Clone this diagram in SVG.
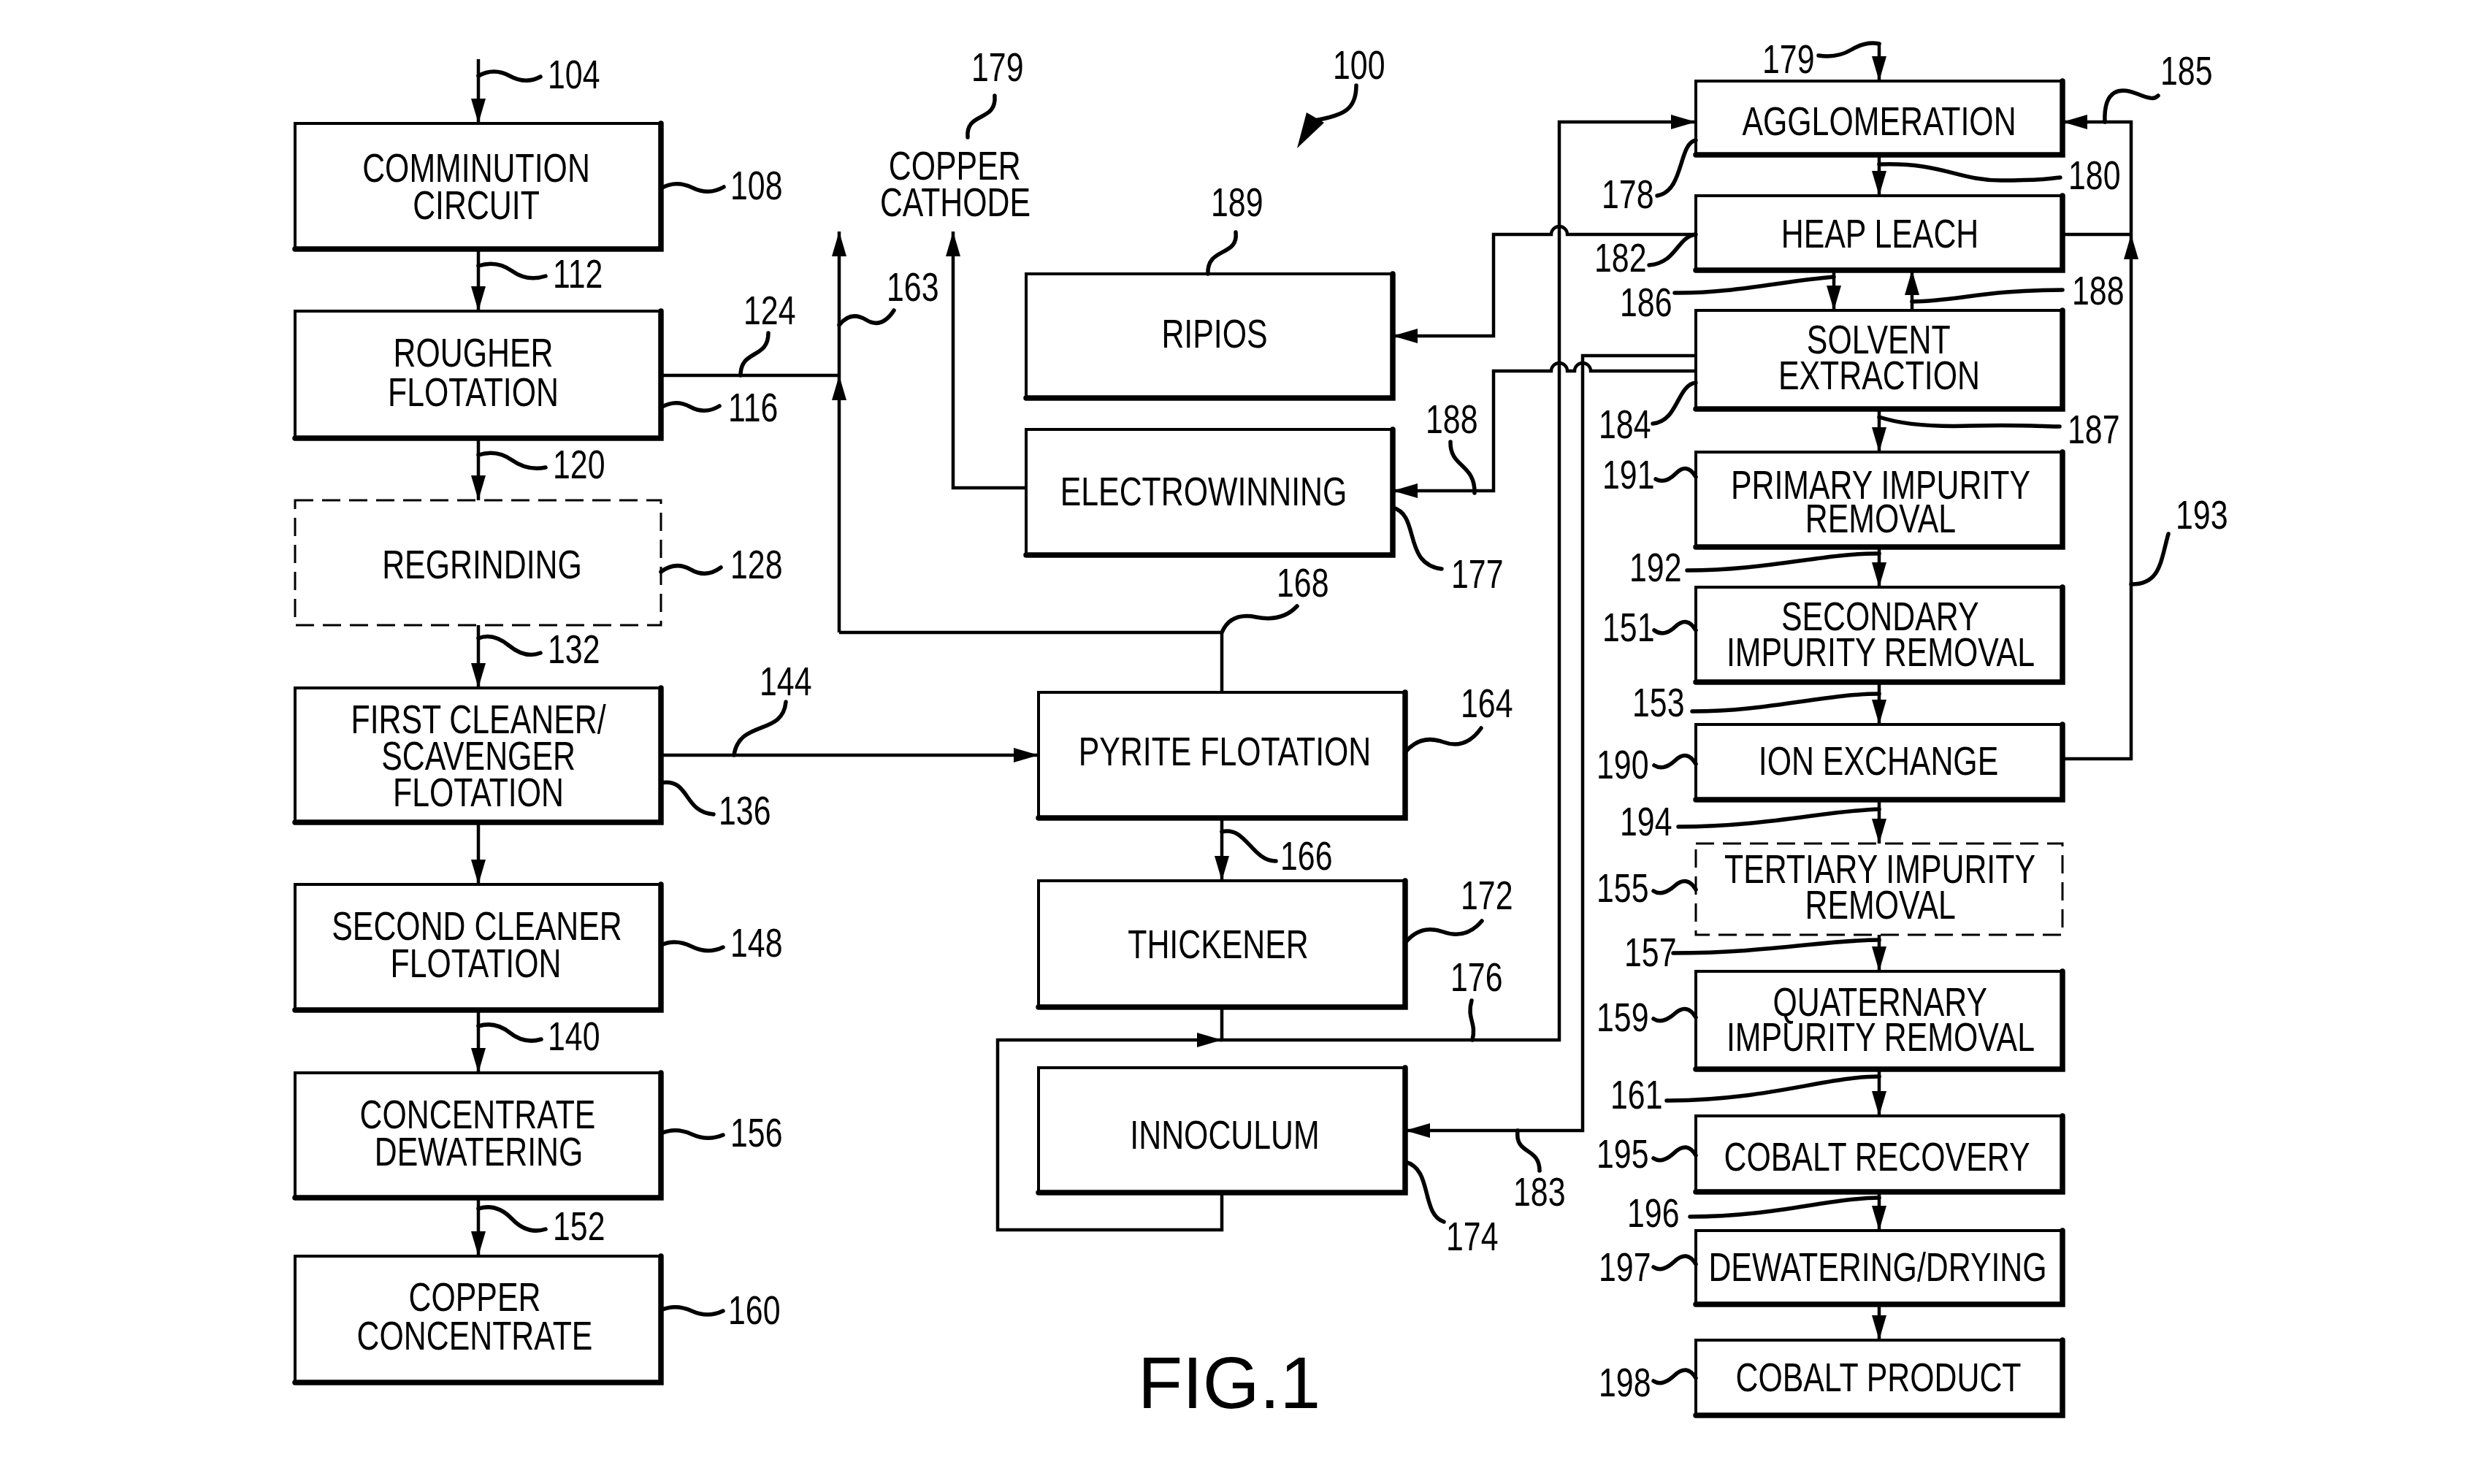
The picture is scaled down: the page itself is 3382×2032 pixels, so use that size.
<svg xmlns="http://www.w3.org/2000/svg" width="3382" height="2032" viewBox="0 0 3382 2032">
<style>
text{font-family:"Liberation Sans",Arial,sans-serif;font-size:56px;fill:#000;transform-box:fill-box;transform:scaleX(.765)}
.c{text-anchor:middle;transform-origin:50% 50%}
.n{text-anchor:start;transform-origin:0% 50%}
.fig{font-size:100px;transform:none}
.b{fill:#fff;stroke:#000;stroke-width:4}
.d{fill:#fff;stroke:#000;stroke-width:3;stroke-dasharray:25 12}
.s{fill:none;stroke:#000;stroke-width:7.5;stroke-linecap:round}
.k{fill:none;stroke:#000;stroke-width:4.5}
.a{marker-end:url(#ah)}
.l{fill:none;stroke:#000;stroke-width:5.5;stroke-linecap:round}
</style>
<defs>
<marker id="ah" markerUnits="userSpaceOnUse" viewBox="0 0 34 20" refX="34" refY="10" markerWidth="34" markerHeight="20" orient="auto"><path d="M0,0 L34,10 L0,20 z" fill="#000"/></marker>
</defs>
<rect width="3382" height="2032" fill="#fff"/>

<g id="comminution"><rect class="b" x="404" y="169" width="501" height="172"/><path class="s" d="M905,169 V341 H404"/><text class="c" x="652" y="249">COMMINUTION<tspan x="652" y="300">CIRCUIT</tspan></text></g>
<g id="rougher"><rect class="b" x="404" y="426" width="501" height="174"/><path class="s" d="M905,426 V600 H404"/><text class="c" x="648" y="502">ROUGHER<tspan x="648" y="556">FLOTATION</tspan></text></g>
<g id="regrinding"><rect class="d" x="404" y="685" width="501" height="171"/><text class="c" x="660" y="792">REGRINDING</text></g>
<g id="first-cleaner"><rect class="b" x="404" y="942" width="501" height="184"/><path class="s" d="M905,942 V1126 H404"/><text class="c" x="655" y="1004">FIRST CLEANER/<tspan x="655" y="1054">SCAVENGER</tspan><tspan x="655" y="1104">FLOTATION</tspan></text></g>
<g id="second-cleaner"><rect class="b" x="404" y="1211" width="501" height="172"/><path class="s" d="M905,1211 V1383 H404"/><text class="c" x="653" y="1287">SECOND CLEANER<tspan x="651" y="1338">FLOTATION</tspan></text></g>
<g id="concentrate-dewatering"><rect class="b" x="404" y="1469" width="501" height="171"/><path class="s" d="M905,1469 V1640 H404"/><text class="c" x="654" y="1545">CONCENTRATE<tspan x="656" y="1596">DEWATERING</tspan></text></g>
<g id="copper-concentrate"><rect class="b" x="404" y="1720" width="501" height="173"/><path class="s" d="M905,1720 V1893 H404"/><text class="c" x="650" y="1795">COPPER<tspan x="650" y="1848">CONCENTRATE</tspan></text></g>

<g id="copper-cathode"><text class="c" x="1307" y="246">COPPER<tspan x="1308" y="296">CATHODE</tspan></text></g>
<g id="ripios"><rect class="b" x="1405" y="375" width="502" height="170"/><path class="s" d="M1907,375 V545 H1405"/><text class="c" x="1663" y="476">RIPIOS</text></g>
<g id="electrowinning"><rect class="b" x="1405" y="588" width="502" height="172"/><path class="s" d="M1907,588 V760 H1405"/><text class="c" x="1648" y="692">ELECTROWINNING</text></g>
<g id="pyrite"><rect class="b" x="1422" y="948" width="502" height="172"/><path class="s" d="M1924,948 V1120 H1422"/><text class="c" x="1677" y="1048">PYRITE FLOTATION</text></g>
<g id="thickener"><rect class="b" x="1422" y="1206" width="502" height="173"/><path class="s" d="M1924,1206 V1379 H1422"/><text class="c" x="1668" y="1312">THICKENER</text></g>
<g id="innoculum"><rect class="b" x="1422" y="1462" width="502" height="171"/><path class="s" d="M1924,1462 V1633 H1422"/><text class="c" x="1677" y="1573">INNOCULUM</text></g>

<g id="agglomeration"><rect class="b" x="2322" y="111" width="502" height="101"/><path class="s" d="M2824,111 V212 H2322"/><text class="c" x="2573" y="185">AGGLOMERATION</text></g>
<g id="heap-leach"><rect class="b" x="2322" y="268" width="502" height="102"/><path class="s" d="M2824,268 V370 H2322"/><text class="c" x="2574" y="339">HEAP LEACH</text></g>
<g id="solvent-extraction"><rect class="b" x="2322" y="425" width="502" height="135"/><path class="s" d="M2824,425 V560 H2322"/><text class="c" x="2572" y="484">SOLVENT<tspan x="2573" y="533">EXTRACTION</tspan></text></g>
<g id="primary"><rect class="b" x="2322" y="619" width="502" height="130"/><path class="s" d="M2824,619 V749 H2322"/><text class="c" x="2575" y="683">PRIMARY IMPURITY<tspan x="2575" y="729">REMOVAL</tspan></text></g>
<g id="secondary"><rect class="b" x="2322" y="804" width="502" height="130"/><path class="s" d="M2824,804 V934 H2322"/><text class="c" x="2574" y="863">SECONDARY<tspan x="2575" y="912">IMPURITY REMOVAL</tspan></text></g>
<g id="ion-exchange"><rect class="b" x="2322" y="992" width="502" height="103"/><path class="s" d="M2824,992 V1095 H2322"/><text class="c" x="2572" y="1061">ION EXCHANGE</text></g>
<g id="tertiary"><rect class="d" x="2322" y="1155" width="502" height="125"/><text class="c" x="2574" y="1209">TERTIARY IMPURITY<tspan x="2575" y="1258">REMOVAL</tspan></text></g>
<g id="quaternary"><rect class="b" x="2322" y="1330" width="502" height="134"/><path class="s" d="M2824,1330 V1464 H2322"/><text class="c" x="2574" y="1391">QUATERNARY<tspan x="2575" y="1439">IMPURITY REMOVAL</tspan></text></g>
<g id="cobalt-recovery"><rect class="b" x="2322" y="1528" width="502" height="104"/><path class="s" d="M2824,1528 V1632 H2322"/><text class="c" x="2570" y="1603">COBALT RECOVERY</text></g>
<g id="dewatering-drying"><rect class="b" x="2322" y="1685" width="502" height="101"/><path class="s" d="M2824,1685 V1786 H2322"/><text class="c" x="2571" y="1754">DEWATERING/DRYING</text></g>
<g id="cobalt-product"><rect class="b" x="2322" y="1835" width="502" height="103"/><path class="s" d="M2824,1835 V1938 H2322"/><text class="c" x="2572" y="1905">COBALT PRODUCT</text></g>

<g id="connectors">
<path class="k a" d="M655,81 V169"/>
<path class="k a" d="M655,341 V426"/>
<path class="k a" d="M655,600 V685"/>
<path class="k a" d="M655,856 V942"/>
<path class="k a" d="M655,1126 V1211"/>
<path class="k a" d="M655,1383 V1469"/>
<path class="k a" d="M655,1640 V1720"/>
<path class="k" d="M905,514 H1149"/>
<path class="k a" d="M1149,866 V514"/>
<path class="k a" d="M1149,514 V317"/>
<path class="k" d="M1673,948 V866 H1149"/>
<path class="k a" d="M905,1034 H1422"/>
<path class="k a" d="M1673,1120 V1206"/>
<path class="k a" d="M1673,1379 V1424 H2135 V167 H2322"/>
<path class="k a" d="M1673,1633 V1684 H1366 V1424 H1673"/>
<path class="k a" d="M1405,668 H1305 V317"/>
<path class="k a" d="M2322,321 H2146 A11,11 0 0 0 2124,321 H2045 V460 H1907"/>
<path class="k a" d="M2322,508 H2178 A11,11 0 0 0 2156,508 H2146 A11,11 0 0 0 2124,508 H2045 V672 H1907"/>
<path class="k a" d="M2322,487 H2167 V1548 H1924"/>
<path class="k" d="M2824,321 H2918"/>
<path class="k a" d="M2824,1039 H2918 V321"/>
<path class="k a" d="M2918,321 V167 H2824"/>
<path class="k a" d="M2573,58 V111"/>
<path class="k a" d="M2573,212 V268"/>
<path class="k a" d="M2511,370 V425"/>
<path class="k a" d="M2618,425 V370"/>
<path class="k a" d="M2573,560 V619"/>
<path class="k a" d="M2573,749 V804"/>
<path class="k a" d="M2573,934 V992"/>
<path class="k a" d="M2573,1095 V1155"/>
<path class="k a" d="M2573,1280 V1330"/>
<path class="k a" d="M2573,1464 V1528"/>
<path class="k a" d="M2573,1632 V1685"/>
<path class="k a" d="M2573,1786 V1835"/>
</g>

<g id="leaders">
<path class="l" d="M655,104 Q676,92 698,104 T740,105"/>
<path class="l" d="M655,364 Q680,356 701,371 T747,378"/>
<path class="l" d="M655,623 Q680,615 701,630 T747,640"/>
<path class="l" d="M655,874 Q675,866 697,884 T740,894"/>
<path class="l" d="M655,1405 Q678,1398 698,1414 T741,1423"/>
<path class="l" d="M655,1655 Q680,1647 701,1669 T747,1683"/>
<path class="l" d="M905,258 Q925,246 948,257 T991,256"/>
<path class="l" d="M905,558 Q925,546 945,557 T985,556"/>
<path class="l" d="M905,783 Q925,768 946,780 T987,777"/>
<path class="l" d="M905,1294 Q925,1285 947,1296 T990,1297"/>
<path class="l" d="M905,1552 Q925,1543 947,1553 T990,1554"/>
<path class="l" d="M905,1794 Q925,1785 947,1795 T990,1795"/>
<path class="l" d="M905,1072 C945,1065 935,1112 977,1115"/>
<path class="l" d="M1014,514 C1014,478 1052,492 1052,456"/>
<path class="l" d="M1005,1034 C1012,985 1072,1008 1076,961"/>
<path class="l" d="M1149,445 Q1165,425 1186,438 T1224,425"/>
<path class="l" d="M1362,131 C1365,168 1322,152 1325,188"/>
<path class="l" d="M1857,117 C1857,150 1840,158 1800,165"/>
<polygon points="1776,203 1789,154 1813,168" fill="#000"/>
<path class="l" d="M1692,318 C1696,352 1652,338 1654,375"/>
<path class="l" d="M1986,605 C1985,640 2020,635 2019,675"/>
<path class="l" d="M1907,695 C1945,705 1920,772 1974,779"/>
<path class="l" d="M1673,866 Q1685,838 1720,845 T1776,830"/>
<path class="l" d="M1924,1030 Q1945,1005 1976,1016 T2028,997"/>
<path class="l" d="M1673,1139 C1705,1130 1715,1180 1747,1179"/>
<path class="l" d="M1924,1291 Q1945,1265 1976,1276 T2029,1261"/>
<path class="l" d="M2016,1424 C2022,1400 2008,1395 2015,1370"/>
<path class="l" d="M2078,1548 C2074,1582 2108,1570 2108,1603"/>
<path class="l" d="M1924,1591 C1962,1600 1945,1662 1977,1673"/>
<path class="l" d="M2490,76 Q2515,80 2535,68 T2573,60"/>
<path class="l" d="M2882,167 C2880,120 2905,120 2925,128 S2950,136 2955,131"/>
<path class="l" d="M2322,192 C2298,196 2306,262 2269,268"/>
<path class="l" d="M2573,225 C2660,222 2680,247 2740,247 S2800,245 2821,243"/>
<path class="l" d="M2322,321 C2296,324 2296,360 2258,363"/>
<path class="l" d="M2511,379 C2440,385 2370,402 2293,401"/>
<path class="l" d="M2618,413 C2680,412 2720,397 2824,397"/>
<path class="l" d="M2322,524 C2296,527 2298,577 2263,580"/>
<path class="l" d="M2573,571 C2600,580 2640,585 2700,583 S2800,584 2820,584"/>
<path class="l" d="M2322,653 Q2310,633 2295,648 T2267,656"/>
<path class="l" d="M2573,758 C2500,757 2420,781 2310,781"/>
<path class="l" d="M2322,863 Q2310,843 2294,858 T2265,863"/>
<path class="l" d="M2573,950 C2500,950 2420,974 2317,974"/>
<path class="l" d="M2322,1046 Q2310,1026 2294,1041 T2265,1048"/>
<path class="l" d="M2573,1108 C2500,1110 2420,1132 2298,1132"/>
<path class="l" d="M2322,1218 Q2310,1198 2293,1213 T2264,1220"/>
<path class="l" d="M2573,1287 C2500,1287 2420,1305 2291,1305"/>
<path class="l" d="M2322,1393 Q2310,1373 2293,1388 T2264,1395"/>
<path class="l" d="M2573,1474 C2500,1474 2420,1507 2282,1507"/>
<path class="l" d="M2322,1582 Q2310,1562 2293,1578 T2264,1586"/>
<path class="l" d="M2573,1640 C2500,1641 2430,1666 2314,1666"/>
<path class="l" d="M2322,1731 Q2310,1711 2293,1727 T2264,1735"/>
<path class="l" d="M2322,1887 Q2310,1867 2293,1883 T2264,1891"/>
<path class="l" d="M2918,800 C2958,800 2958,770 2969,731"/>
</g>

<g id="labels">
<text class="n" x="750" y="121">104</text>
<text class="n" x="1000" y="273">108</text>
<text class="n" x="757" y="394">112</text>
<text class="n" x="997" y="577">116</text>
<text class="n" x="757" y="655">120</text>
<text class="n" x="1018" y="444">124</text>
<text class="n" x="1000" y="792">128</text>
<text class="n" x="750" y="908">132</text>
<text class="n" x="984" y="1129">136</text>
<text class="n" x="1040" y="952">144</text>
<text class="n" x="1000" y="1310">148</text>
<text class="n" x="750" y="1438">140</text>
<text class="n" x="1000" y="1570">156</text>
<text class="n" x="757" y="1698">152</text>
<text class="n" x="997" y="1813">160</text>
<text class="n" x="1214" y="412">163</text>
<text class="n" x="1330" y="111">179</text>
<text class="n" x="1825" y="108">100</text>
<text class="n" x="1658" y="296">189</text>
<text class="n" x="1952" y="593">188</text>
<text class="n" x="1987" y="805">177</text>
<text class="n" x="1748" y="817">168</text>
<text class="n" x="2000" y="982">164</text>
<text class="n" x="1753" y="1191">166</text>
<text class="n" x="2000" y="1245">172</text>
<text class="n" x="1986" y="1357">176</text>
<text class="n" x="2072" y="1651">183</text>
<text class="n" x="1980" y="1712">174</text>
<text class="n" x="2413" y="100">179</text>
<text class="n" x="2958" y="116">185</text>
<text class="n" x="2193" y="285">178</text>
<text class="n" x="2832" y="259">180</text>
<text class="n" x="2183" y="372">182</text>
<text class="n" x="2218" y="433">186</text>
<text class="n" x="2837" y="417">188</text>
<text class="n" x="2189" y="600">184</text>
<text class="n" x="2831" y="607">187</text>
<text class="n" x="2194" y="669">191</text>
<text class="n" x="2979" y="724">193</text>
<text class="n" x="2231" y="796">192</text>
<text class="n" x="2194" y="878">151</text>
<text class="n" x="2235" y="981">153</text>
<text class="n" x="2186" y="1066">190</text>
<text class="n" x="2218" y="1144">194</text>
<text class="n" x="2186" y="1235">155</text>
<text class="n" x="2224" y="1323">157</text>
<text class="n" x="2186" y="1412">159</text>
<text class="n" x="2205" y="1518">161</text>
<text class="n" x="2186" y="1599">195</text>
<text class="n" x="2228" y="1680">196</text>
<text class="n" x="2189" y="1754">197</text>
<text class="n" x="2189" y="1912">198</text>
<text class="fig" x="1558" y="1928">FIG.1</text>
</g>
</svg>
